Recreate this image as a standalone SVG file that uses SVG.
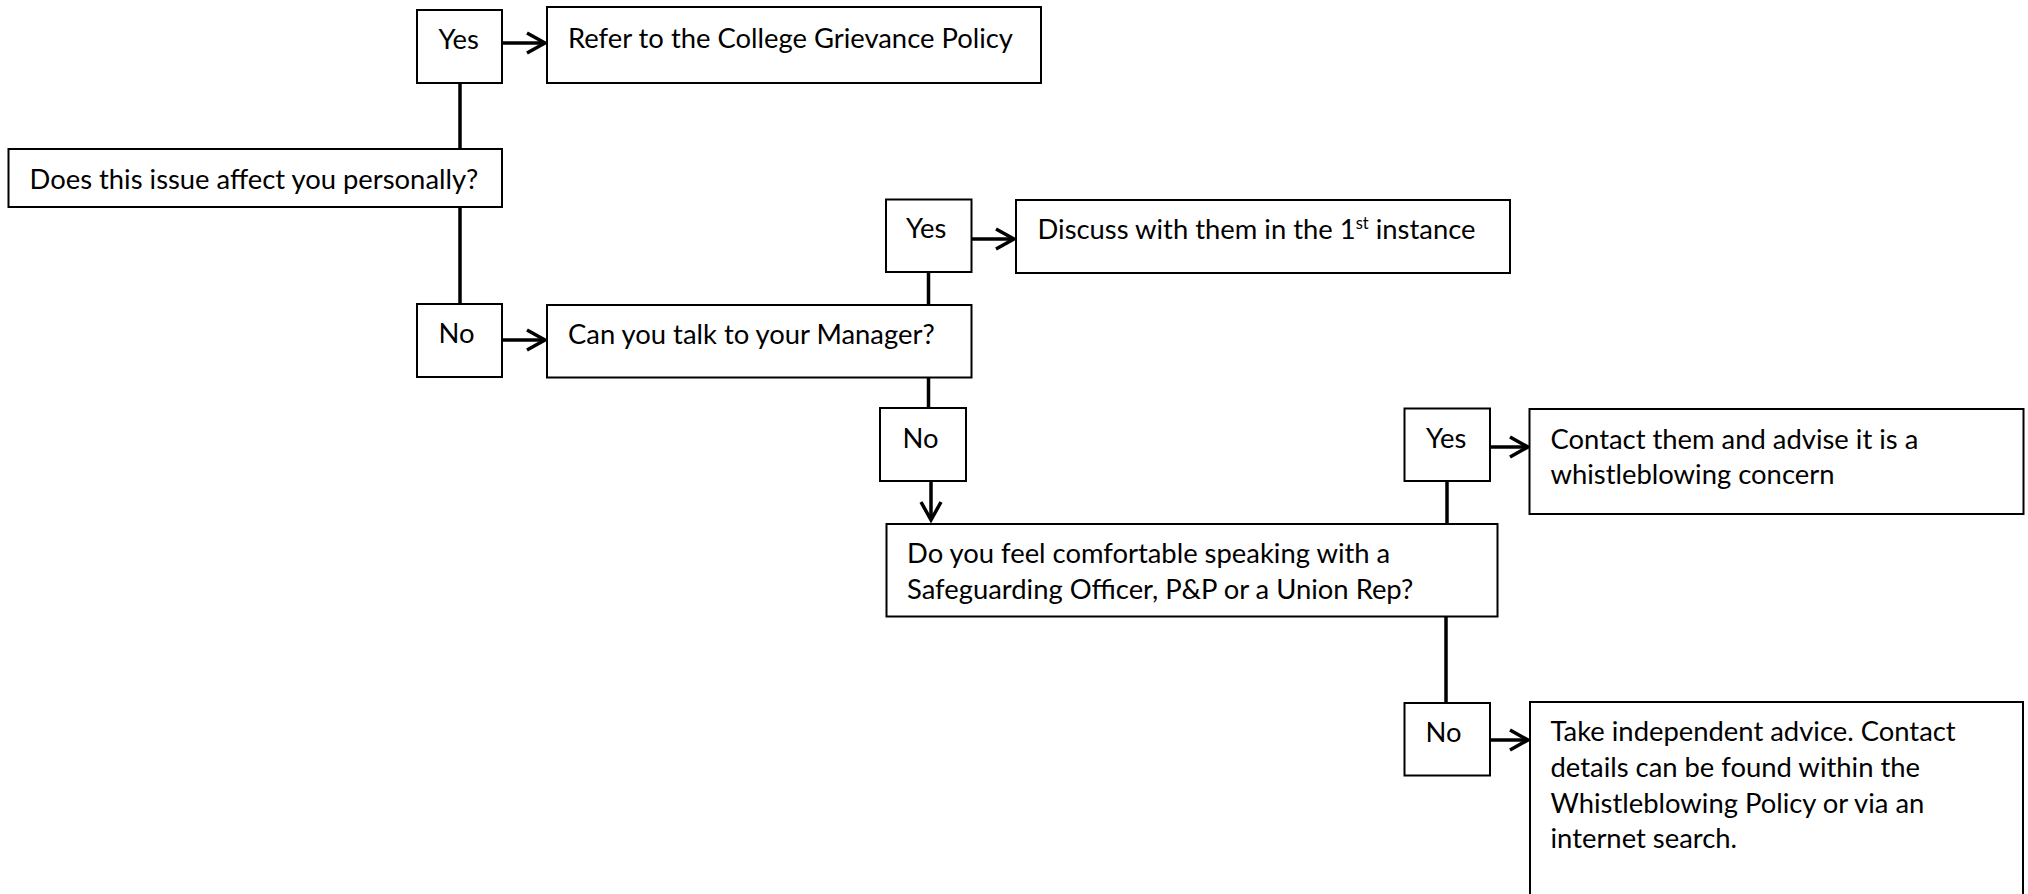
<svg xmlns="http://www.w3.org/2000/svg" width="2028" height="894" viewBox="0 0 2028 894">
<style>
.box{fill:#fff;stroke:#000;stroke-width:2}
.t{font-family:Lato,"Liberation Sans",sans-serif;font-size:27.4px;fill:#000}
.sup{font-size:16.5px}
.c{stroke:#000;stroke-width:3.5;fill:none}
</style>
<defs>
<marker id="chev" markerUnits="userSpaceOnUse" viewBox="0 0 26 26" markerWidth="26" markerHeight="26" refX="22" refY="13" orient="auto">
<path d="M4 3 L22 13 L4 23" fill="none" stroke="#000" stroke-width="3.5"/>
</marker>
</defs>
<rect width="2028" height="894" fill="#fff"/>
<g id="connectors">
<line class="c" x1="460" y1="83" x2="460" y2="149"/>
<line class="c" x1="460" y1="207" x2="460" y2="304"/>
<line class="c" x1="502" y1="43" x2="545" y2="43" marker-end="url(#chev)"/>
<line class="c" x1="502" y1="340" x2="545" y2="340" marker-end="url(#chev)"/>
<line class="c" x1="928.5" y1="272" x2="928.5" y2="305"/>
<line class="c" x1="971.5" y1="239" x2="1014" y2="239" marker-end="url(#chev)"/>
<line class="c" x1="928.5" y1="377" x2="928.5" y2="408"/>
<line class="c" x1="931" y1="481" x2="931" y2="520" marker-end="url(#chev)"/>
<line class="c" x1="1447" y1="481" x2="1447" y2="524"/>
<line class="c" x1="1490" y1="447" x2="1528" y2="447" marker-end="url(#chev)"/>
<line class="c" x1="1446" y1="617" x2="1446" y2="703"/>
<line class="c" x1="1490" y1="740" x2="1528" y2="740" marker-end="url(#chev)"/>
</g>
<g id="yes1"><rect class="box" x="417" y="10" width="85" height="73"/><text class="t" x="438.5" y="49">Yes</text></g>
<g id="refer"><rect class="box" x="547" y="7" width="494" height="76"/><text class="t" x="568" y="48">Refer to the College Grievance Policy</text></g>
<g id="q1"><rect class="box" x="8.5" y="149" width="493.5" height="58"/><text class="t" x="29.5" y="189">Does this issue affect you personally?</text></g>
<g id="no1"><rect class="box" x="417" y="304" width="85" height="73"/><text class="t" x="438.5" y="343">No</text></g>
<g id="q2"><rect class="box" x="547" y="305" width="424.5" height="72.5"/><text class="t" x="568" y="344">Can you talk to your Manager?</text></g>
<g id="yes2"><rect class="box" x="886" y="199.5" width="85.5" height="72.5"/><text class="t" x="906" y="238">Yes</text></g>
<g id="discuss"><rect class="box" x="1016" y="200" width="494" height="73"/><text class="t" x="1037.5" y="239">Discuss with them in the 1<tspan class="sup" dy="-10">st</tspan><tspan dy="10"> instance</tspan></text></g>
<g id="no2"><rect class="box" x="880" y="408" width="86" height="73"/><text class="t" x="902.5" y="447.5">No</text></g>
<g id="q3"><rect class="box" x="886.5" y="524" width="611" height="92.5"/><text class="t" x="907" y="562.5">Do you feel comfortable speaking with a</text><text class="t" x="907" y="598.5">Safeguarding Officer, P&amp;P or a Union Rep?</text></g>
<g id="yes3"><rect class="box" x="1404.5" y="408.5" width="85.5" height="72.5"/><text class="t" x="1426" y="447.5">Yes</text></g>
<g id="contact"><rect class="box" x="1529.5" y="409" width="494" height="105"/><text class="t" x="1550.5" y="449">Contact them and advise it is a</text><text class="t" x="1550.5" y="484">whistleblowing concern</text></g>
<g id="no3"><rect class="box" x="1404.5" y="703" width="85.5" height="72.5"/><text class="t" x="1425.5" y="741.5">No</text></g>
<g id="advice"><rect class="box" x="1530" y="702" width="493" height="230"/><text class="t" x="1550.5" y="741">Take independent advice. Contact</text><text class="t" x="1550.5" y="777">details can be found within the</text><text class="t" x="1550.5" y="812.5">Whistleblowing Policy or via an</text><text class="t" x="1550.5" y="847.5">internet search.</text></g>
</svg>
